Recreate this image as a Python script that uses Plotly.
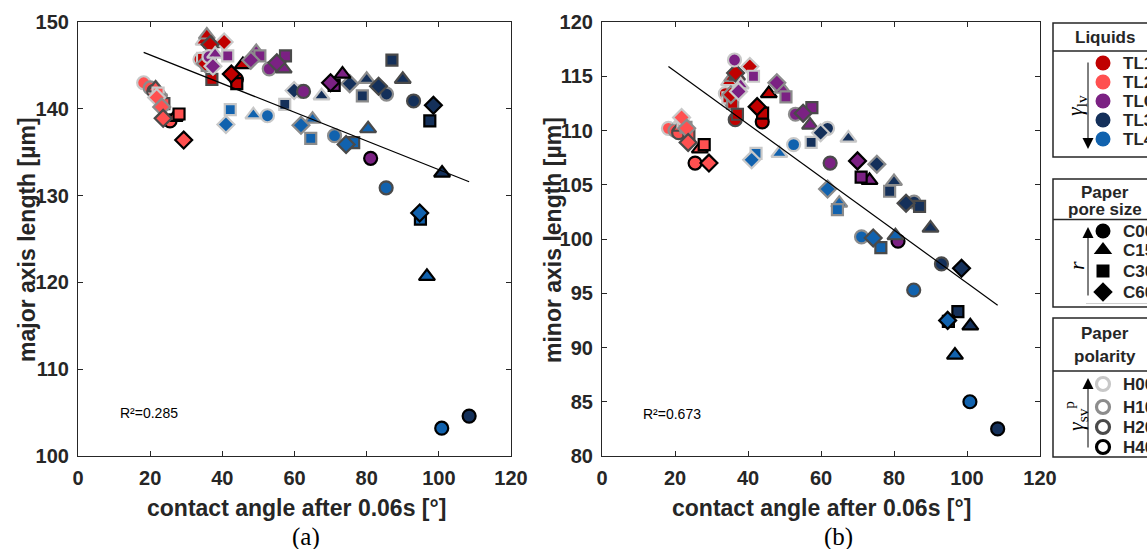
import plotly.graph_objects as go

W, H = 1147, 549

# ---------------- data ----------------
liquids = ["TL1", "TL2", "TLG", "TL3", "TL4"]
liquid_colors = ["#C00000", "#FF5050", "#7B2183", "#14305A", "#1162AE"]
pores = ["C00", "C15", "C30", "C60"]
pore_symbols = ["circle", "triangle-up", "square", "diamond"]
polarities = ["H00", "H10", "H20", "H40"]
polarity_edges = ["#C8C8C8", "#8C8C8C", "#4A4A4A", "#000000"]

# rows: pore size C00, C15, C30, C60 ; columns: polarity H00, H10, H20, H40
angle_TL1 = [[33.8, 35.5, 36.5, 43.9], [34.8, 35.7, 37.0, 45.7], [34.5, 35.8, 37.1, 44.0], [40.5, 35.3, 36.6, 42.5]]
major_TL1 = [[145.7, 145.8, 145.5, 143.4], [147.8, 148.5, 147.5, 145.1], [145.8, 145.0, 143.4, 142.9], [147.7, 145.2, 147.4, 144.0]]
minor_TL1 = [[113.4, 112.6, 111.0, 110.8], [114.5, 114.9, 115.0, 113.4], [113.0, 112.5, 111.5, 111.6], [115.9, 113.3, 115.3, 112.2]]

angle_TL2 = [[18.2, 20.0, 21.0, 25.5], [21.8, 22.5, 21.5, 26.8], [22.2, 23.0, 23.8, 28.0], [21.8, 23.2, 23.6, 29.3]]
major_TL2 = [[143.0, 142.4, 142.0, 138.6], [142.3, 141.9, 142.4, 139.0], [141.8, 141.0, 140.6, 139.4], [141.3, 140.2, 138.9, 136.4]]
minor_TL2 = [[110.2, 110.0, 109.8, 107.0], [111.0, 110.5, 110.3, 108.3], [110.8, 110.3, 109.5, 108.7], [111.2, 110.2, 108.9, 107.0]]

angle_TLG = [[36.3, 53.0, 62.5, 81.1], [38.0, 49.4, 57.0, 73.3], [41.5, 50.4, 57.5, 71.0], [37.4, 47.9, 55.1, 70.0]]
major_TLG = [[146.0, 144.6, 142.0, 134.3], [146.3, 146.6, 144.6, 144.0], [146.1, 146.1, 146.1, 142.7], [144.9, 145.6, 145.3, 143.0]]
minor_TLG = [[116.5, 111.5, 107.0, 99.8], [114.2, 113.8, 110.5, 105.4], [115.0, 113.1, 112.1, 105.7], [113.6, 114.4, 111.6, 107.2]]

angle_TL3 = [[61.8, 85.5, 93.0, 108.4], [67.5, 80.0, 90.0, 100.9], [57.3, 78.8, 87.0, 97.5], [59.9, 75.3, 83.3, 98.5]]
major_TL3 = [[142.0, 141.7, 140.9, 104.6], [141.5, 143.4, 143.4, 132.6], [140.5, 141.5, 145.6, 138.6], [142.1, 142.9, 142.6, 140.4]]
minor_TL3 = [[110.2, 103.4, 97.7, 82.5], [109.3, 105.3, 101.0, 92.0], [108.9, 104.4, 103.0, 93.3], [109.8, 106.9, 103.3, 97.3]]

angle_TL4 = [[52.5, 71.1, 85.4, 100.8], [48.6, 65.0, 80.4, 96.7], [42.2, 64.5, 76.4, 94.9], [41.0, 61.8, 74.3, 94.7]]
major_TL4 = [[139.2, 136.9, 130.9, 103.2], [139.3, 138.8, 137.7, 120.7], [139.9, 136.6, 136.1, 127.3], [138.2, 138.1, 135.9, 128.0]]
minor_TL4 = [[108.7, 100.2, 95.3, 85.0], [107.9, 103.3, 100.3, 89.3], [107.9, 102.7, 99.2, 92.4], [107.3, 104.6, 100.1, 92.5]]

angles = [angle_TL1, angle_TL2, angle_TLG, angle_TL3, angle_TL4]
majors = [major_TL1, major_TL2, major_TLG, major_TL3, major_TL4]
minors = [minor_TL1, minor_TL2, minor_TLG, minor_TL3, minor_TL4]

# linear fits
fit_angle = [18.2, 108.4]
fit_major = [146.5, 131.6]
fit_minor = [115.9, 93.9]
r2_major = "0.285"
r2_minor = "0.673"

x_ticks = [0, 20, 40, 60, 80, 100, 120]
major_ticks = [100, 110, 120, 130, 140, 150]
minor_ticks = [80, 85, 90, 95, 100, 105, 110, 115, 120]

# ---------------- figure ----------------
TXT = "#262626"
FONT = "Liberation Sans, Arial, sans-serif"
SERIF = "Liberation Serif, Times New Roman, serif"
sizes = {"circle": 13, "triangle-up": 14, "square": 11, "diamond": 13}

fig = go.Figure()
panels = [("x", "y", majors, fit_major, [1, 0, 3, 4, 2]),
          ("x2", "y2", minors, fit_minor, [1, 0, 2, 3, 4])]
for (xa, ya, ys_all, fit_y, draw_order) in panels:
    for li in draw_order:
        for pi in range(4):
            fig.add_trace(go.Scatter(
                x=angles[li][pi], y=ys_all[li][pi], xaxis=xa, yaxis=ya,
                mode="markers", showlegend=False, hoverinfo="skip",
                marker=dict(symbol=pore_symbols[pi], size=sizes[pore_symbols[pi]],
                            color=liquid_colors[li], opacity=1,
                            line=dict(color=polarity_edges, width=2.2)),
            ))
    fig.add_trace(go.Scatter(x=fit_angle, y=fit_y, xaxis=xa, yaxis=ya, mode="lines",
                             line=dict(color="black", width=1.2), showlegend=False,
                             hoverinfo="skip"))

# ---------------- legend boxes (overlay axis in pixel units) ----------------
lx_marker = 1103
lx_text = 1121
liq_y = [63, 82, 101, 120, 139]
pore_y = [231, 250, 271, 292]
pol_y = [384, 407, 427, 447]

fig.add_trace(go.Scatter(x=[lx_marker] * 5, y=liq_y, xaxis="x3", yaxis="y3", mode="markers",
                         marker=dict(symbol="circle", size=15, color=liquid_colors, opacity=1,
                                     line=dict(width=0)),
                         showlegend=False, hoverinfo="skip"))
fig.add_trace(go.Scatter(x=[lx_marker] * 4, y=pore_y, xaxis="x3", yaxis="y3", mode="markers",
                         marker=dict(symbol=pore_symbols, size=[15, 16, 13, 15], color="#000000",
                                     opacity=1, line=dict(width=0)),
                         showlegend=False, hoverinfo="skip"))
fig.add_trace(go.Scatter(x=[lx_marker] * 4, y=pol_y, xaxis="x3", yaxis="y3", mode="markers",
                         marker=dict(symbol="circle-open", size=13, color=polarity_edges, opacity=1,
                                     line=dict(width=3.2, color=polarity_edges)),
                         showlegend=False, hoverinfo="skip"))

shapes = []
for (y0, ym, y1) in [(23, 51, 157), (179, 219.5, 307), (318, 371, 457)]:
    shapes.append(dict(type="rect", xref="x3", yref="y3", x0=1053, x1=1170, y0=y0, y1=y1,
                       line=dict(color=TXT, width=1.5)))
    shapes.append(dict(type="line", xref="x3", yref="y3", x0=1053, x1=1170, y0=ym, y1=ym,
                       line=dict(color=TXT, width=1.5)))
shapes.append(dict(type="line", xref="x3", yref="y3", x0=1086, x1=1170, y0=303.5, y1=303.5,
                   line=dict(color="#D0D0D0", width=1)))

ann = []
def txt(x, y, s, size=17, xanchor="center", family=FONT, angle=0, color=TXT, xref="x3", yref="y3"):
    ann.append(dict(x=x, y=y, xref=xref, yref=yref, text=s, showarrow=False,
                    xanchor=xanchor, yanchor="middle", textangle=angle,
                    font=dict(family=family, size=size, color=color)))

txt(1105, 37, "<b>Liquids</b>")
txt(1105, 192, "<b>Paper</b>")
txt(1105, 209, "<b>pore size</b>")
txt(1105, 333, "<b>Paper</b>")
txt(1105, 356, "<b>polarity</b>")
for name, y in zip(liquids, liq_y):
    txt(lx_text, y, "<b>%s</b>" % name, xanchor="left")
for name, y in zip(pores, pore_y):
    txt(lx_text, y, "<b>%s</b>" % name, xanchor="left")
for name, y in zip(polarities, pol_y):
    txt(lx_text, y, "<b>%s</b>" % name, xanchor="left")

txt(1076, 106, "<i>γ</i><sub>lv</sub>", size=22, family=SERIF, angle=-90, color="black")
txt(1076, 266, "<i>r</i>", size=22, family=SERIF, angle=-90, color="black")
txt(1075, 416, "<i>γ</i><sub>sv</sub><sup>p</sup>", size=22, family=SERIF, angle=-90, color="black")

for (yh, yt) in [(149, 61), (227, 297), (378, 449)]:
    ann.append(dict(x=1088, y=yh, ax=1088, ay=yt, xref="x3", yref="y3", axref="x3", ayref="y3",
                    text="", showarrow=True, arrowhead=2, arrowsize=2.2, arrowwidth=1,
                    arrowcolor="black"))

# axis titles, panel labels and R² text
txt(27, 240, "<b>major axis length [µm]</b>", size=23, angle=-90)
txt(553, 240, "<b>minor axis length [µm]</b>", size=23, angle=-90)
txt(296, 508, "<b>contact angle after 0.06s [°]</b>", size=23)
txt(821, 508, "<b>contact angle after 0.06s [°]</b>", size=23)
txt(306, 537, "(a)", size=25, family=SERIF, color="black")
txt(838, 537, "(b)", size=25, family=SERIF, color="black")
txt(11, 104.9, "R²=" + r2_major, size=14, xanchor="left", xref="x", yref="y", color="black")
txt(10.8, 83.9, "R²=" + r2_minor, size=14, xanchor="left", xref="x2", yref="y2", color="black")

axis_common = dict(showline=True, linecolor=TXT, linewidth=1.2, mirror="ticks",
                   ticks="inside", ticklen=5, tickcolor=TXT, tickwidth=1,
                   showgrid=False, zeroline=False, fixedrange=True,
                   tickfont=dict(family=FONT, size=20, color=TXT, weight="bold"))

fig.update_layout(
    width=W, height=H, margin=dict(l=0, r=0, t=0, b=0, autoexpand=False),
    paper_bgcolor="white", plot_bgcolor="rgba(0,0,0,0)",
    xaxis=dict(domain=[78 / W, 511 / W], range=[0, 120], tickvals=x_ticks, anchor="y",
               ticklabelstandoff=4, **axis_common),
    yaxis=dict(domain=[1 - 456 / H, 1 - 22 / H], range=[100, 150], tickvals=major_ticks, anchor="x",
               ticklabelstandoff=4, **axis_common),
    xaxis2=dict(domain=[602 / W, 1040 / W], range=[0, 120], tickvals=x_ticks, anchor="y2",
                ticklabelstandoff=4, **axis_common),
    yaxis2=dict(domain=[1 - 456 / H, 1 - 22 / H], range=[80, 120], tickvals=minor_ticks, anchor="x2",
                ticklabelstandoff=4, **axis_common),
    xaxis3=dict(domain=[0, 1], range=[0, W], visible=False, fixedrange=True, anchor="y3"),
    yaxis3=dict(domain=[0, 1], range=[H, 0], visible=False, fixedrange=True, anchor="x3"),
    shapes=shapes, annotations=ann,
)

fig.write_html("out.html")
